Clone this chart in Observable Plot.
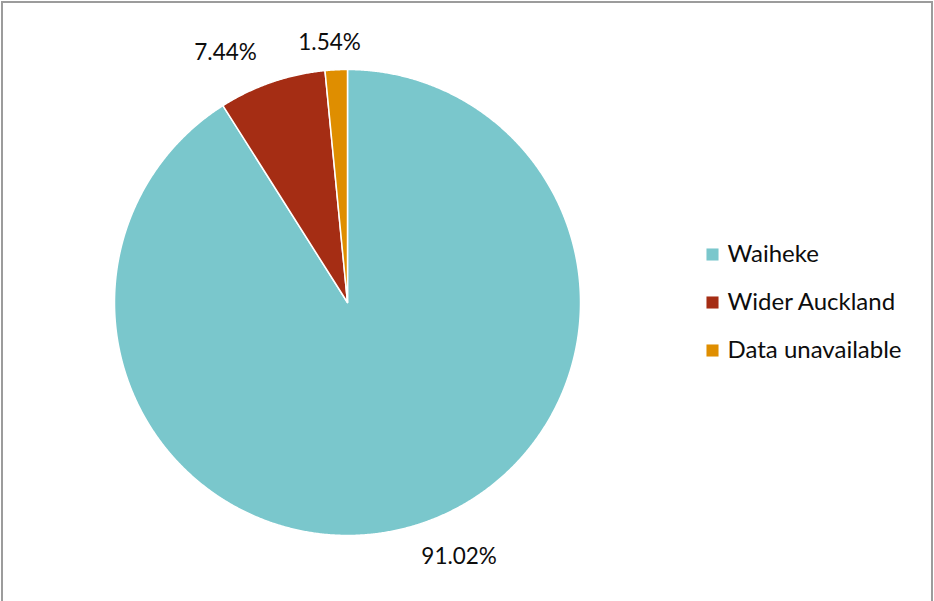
<!DOCTYPE html>
<html><head><meta charset="utf-8">
<script src="https://cdn.jsdelivr.net/npm/d3@7"></script>
<script src="https://cdn.jsdelivr.net/npm/@observablehq/plot@0.6"></script>
<style>
body{margin:0;background:#fff;}
#wrap{position:relative;width:934px;height:601px;overflow:hidden;background:#fff;}
#border{position:absolute;left:1px;top:1px;width:932px;height:640px;border:2px solid #9c9c9c;box-sizing:border-box;pointer-events:none;}
</style></head><body><div id="wrap"><div id="chart"></div><div id="border"></div></div>
<script>
const categories = ["Waiheke", "Wider Auckland", "Data unavailable"];
const shares = [91.02, 7.44, 1.54];
const labels = ["91.02%", "7.44%", "1.54%"];
const colors = ["#7AC7CC", "#A52D14", "#DF8E00"];

const W = 934, H = 601, cx = 347, cy = 302, R = 233;
const px = p => (p - cx) / R, py = p => (cy - p) / R;
const FONT = "Lato, 'Open Sans', sans-serif";

const rows = categories.map((c, i) => ({category: c, share: shares[i], label: labels[i]}));
const arcs = d3.pie().sort(null).value(d => d.share)(rows);
const pts = [];
arcs.forEach(a => {
  const c = a.data.category;
  const n = Math.max(2, Math.ceil((a.endAngle - a.startAngle) / 0.005));
  pts.push({category: c, x: 0, y: 0});
  for (let k = 0; k <= n; k++) {
    const t = a.startAngle + (a.endAngle - a.startAngle) * k / n;
    pts.push({category: c, x: Math.sin(t), y: Math.cos(t)});
  }
  pts.push({category: c, x: 0, y: 0});
});
const labelPts = arcs.map(a => {
  const m = (a.startAngle + a.endAngle) / 2;
  return {category: a.data.category, label: a.data.label, x: Math.sin(m) * 1.15, y: Math.cos(m) * 1.15};
});
const nudges = {"Waiheke": [37, -3], "Wider Auckland": [-35, 4], "Data unavailable": [-5, 8]};
const legend = categories.map((c, i) => ({category: c, x: px(712), tx: px(727), y: py(254 + 48 * i)}));

const chart = Plot.plot({
  width: W, height: H, margin: 0,
  style: {fontFamily: FONT, background: "transparent"},
  x: {domain: [px(0), px(W)], axis: null},
  y: {domain: [py(H), py(0)], axis: null},
  color: {domain: categories, range: colors},
  marks: [
    Plot.line(pts, {x: "x", y: "y", z: "category", fill: "category", stroke: "white", strokeWidth: 1.5, curve: "linear"}),
    ...categories.map(c => Plot.text(labelPts.filter(d => d.category === c), {
      x: "x", y: "y", text: "label", fontSize: 22.5, fill: "#0d0d0d",
      dx: nudges[c][0], dy: nudges[c][1]
    })),
    Plot.dot(legend, {x: "x", y: "y", symbol: "square", r: 6.8, fill: "category"}),
    Plot.text(legend, {x: "tx", y: "y", text: "category", textAnchor: "start", fontSize: 24, fill: "#0d0d0d"})
  ]
});
document.getElementById("chart").append(chart);
</script></body></html>
